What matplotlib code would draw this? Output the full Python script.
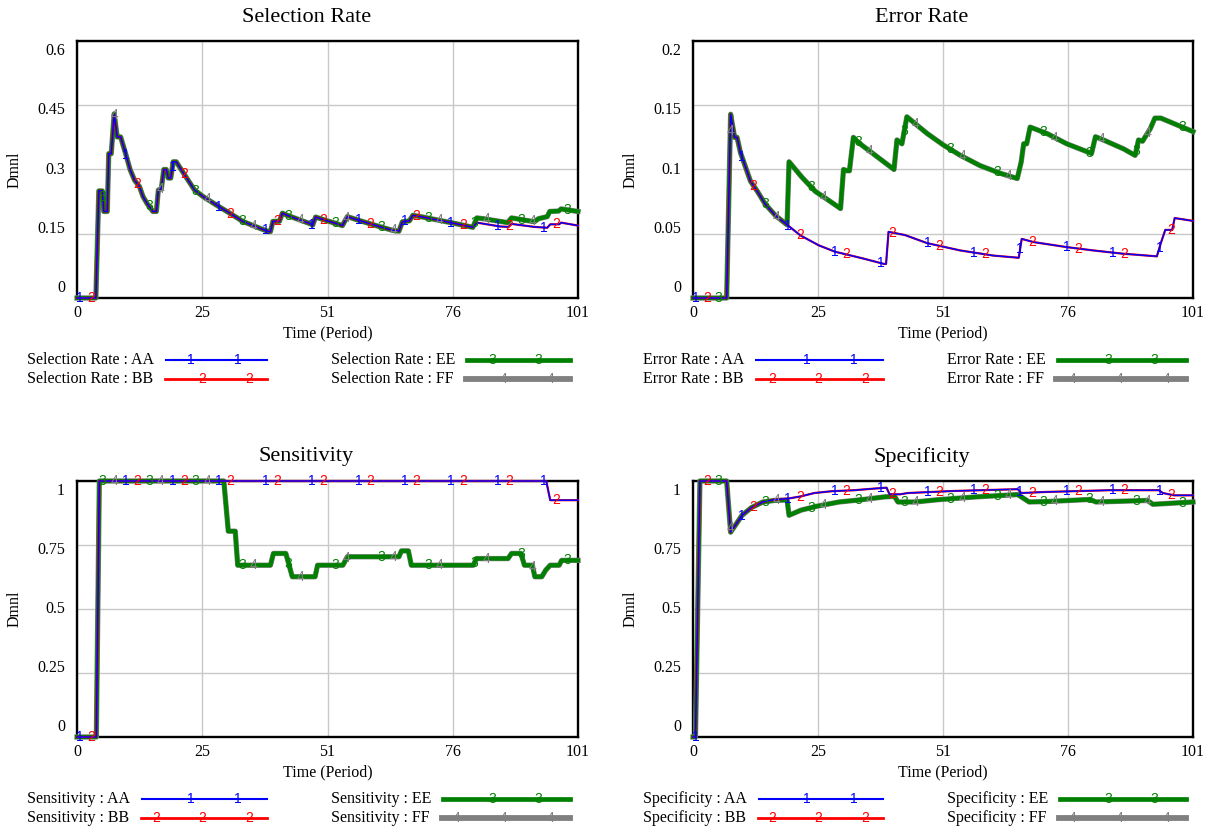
import numpy as np
import matplotlib
matplotlib.use('agg')
import matplotlib.pyplot as plt
from matplotlib.lines import Line2D

plt.rcParams['font.family'] = 'Liberation Serif'

W, H = 1211, 832

time_ticks = [0, 25.25, 50.5, 75.75, 101]
time_labels = ['0', '25', '51', '76', '101']

# Selection Rate
sel_aa_t = [0, 3.8, 4.4, 5.1, 5.4, 6.1, 6.4, 6.9, 7.5, 8.1, 8.8, 9.8, 10.7, 11.6, 12.6, 13.3, 14.1,
            15.3, 16.0, 16.4, 17.0, 17.5, 18.0, 18.4, 18.9, 19.4, 20.0, 21.0, 22.4, 23.7, 25.4, 28.1,
            30.8, 33.4, 36.8, 38.6, 39.0, 39.5, 40.8, 41.4, 42.4, 47.1, 47.5, 48.1, 50.2, 52.5, 53.5,
            54.5, 56.9, 60.3, 63.6, 64.9, 65.6, 67.0, 67.7, 69.7, 75.8, 79.8, 80.6, 85.3, 87.0, 87.6,
            92.2, 94.8, 95.4, 97.2, 97.6, 101]
sel_aa_v = [0, 0, 0.25, 0.25, 0.202, 0.202, 0.337, 0.337, 0.43, 0.376, 0.376, 0.337, 0.30, 0.275,
            0.26, 0.237, 0.221, 0.202, 0.202, 0.252, 0.255, 0.30, 0.30, 0.28, 0.28, 0.318, 0.318,
            0.30, 0.275, 0.252, 0.237, 0.217, 0.198, 0.179, 0.163, 0.155, 0.155, 0.179, 0.179, 0.198,
            0.193, 0.173, 0.170, 0.189, 0.181, 0.173, 0.169, 0.19, 0.181, 0.169, 0.158, 0.156, 0.178,
            0.180, 0.193, 0.189, 0.175, 0.165, 0.176, 0.167, 0.166, 0.173, 0.166, 0.164, 0.172, 0.172,
            0.176, 0.169]
# EE follows AA up to t=79.8, then splits off
sel_ee_t = sel_aa_t[:58] + [80.6, 82.0, 86.8, 87.6, 92.2, 93.0, 94.8, 95.3, 97.1, 97.6, 101]
sel_ee_v = sel_aa_v[:58] + [0.187, 0.185, 0.176, 0.187, 0.178, 0.185, 0.190, 0.202, 0.203, 0.208, 0.202]

# Error Rate
err_aa_t = [0, 6.8, 7.6, 8.4, 8.9, 9.6, 10.6, 11.6, 13.0, 14.6, 16.7, 19.0, 21.7, 25.4, 28.7, 34.1,
            38.6, 39.0, 39.5, 42.8, 47.3, 54.0, 60.7, 65.8, 66.4, 68.8, 75.5, 80.9, 87.0, 89.5, 93.7,
            94.5, 95.4, 96.8, 97.3, 101]
err_aa_v = [0, 0, 0.143, 0.125, 0.125, 0.113, 0.102, 0.091, 0.083, 0.073, 0.064, 0.057, 0.0487,
            0.041, 0.036, 0.031, 0.0265, 0.0265, 0.0515, 0.049, 0.0427, 0.037, 0.033, 0.0313, 0.046,
            0.0435, 0.0396, 0.037, 0.0344, 0.0337, 0.0324, 0.0427, 0.053, 0.053, 0.0622, 0.060]
err_ee_t = err_aa_t[:12] + [19.4, 22.0, 24.7, 27.4, 29.8, 30.4, 31.1, 31.6, 32.4, 33.4, 40.6, 41.2,
                            42.2, 43.2, 47.3, 50.6, 54.0, 58.0, 62.1, 65.5, 66.3, 66.8, 67.4, 68.1,
                            71.5, 75.5, 80.5, 81.3, 82.9, 87.0, 89.3, 90.0, 90.8, 92.4, 93.3, 94.5, 101]
err_ee_v = err_aa_v[:12] + [0.106, 0.094, 0.083, 0.076, 0.0696, 0.100, 0.099, 0.099, 0.125, 0.121,
                            0.100, 0.123, 0.120, 0.141, 0.128, 0.119, 0.111, 0.103, 0.097, 0.093,
                            0.106, 0.120, 0.120, 0.133, 0.128, 0.120, 0.1125, 0.1255, 0.123, 0.116,
                            0.111, 0.123, 0.122, 0.132, 0.140, 0.140, 0.1295]

# Sensitivity
sen_aa_t = [0, 3.9, 4.5, 94.6, 95.4, 101]
sen_aa_v = [0, 0, 1, 1, 0.925, 0.925]
sen_ee_t = [0, 3.9, 4.5, 29.6, 30.5, 31.9, 32.4, 39.0, 39.6, 42.1, 43.4, 48.0, 48.5, 53.6, 54.5,
            64.9, 65.4, 66.8, 67.4, 79.9, 80.5, 86.9, 87.6, 89.5, 90.2, 91.8, 92.3, 93.7, 94.5,
            95.4, 97.2, 97.7, 101]
sen_ee_v = [0, 0, 1, 1, 0.804, 0.804, 0.671, 0.671, 0.717, 0.717, 0.626, 0.626, 0.671, 0.671,
            0.704, 0.704, 0.727, 0.727, 0.671, 0.671, 0.697, 0.697, 0.717, 0.717, 0.671, 0.671,
            0.626, 0.626, 0.652, 0.671, 0.671, 0.69, 0.69]

# Specificity
spe_aa_t = [0, 0.5, 1.4, 6.8, 7.6, 8.8, 9.9, 11.8, 14.1, 16.4, 19.1, 21.8, 24.5, 28.0, 32.6, 36.4,
            39.1, 39.7, 41.8, 43.4, 52.6, 65.6, 66.3, 71.0, 84.1, 94.1, 94.9, 97.2, 101]
spe_aa_v = [0, 0, 1, 1, 0.80, 0.834, 0.866, 0.896, 0.918, 0.927, 0.931, 0.94, 0.953, 0.96, 0.964,
            0.97, 0.974, 0.948, 0.948, 0.953, 0.961, 0.968, 0.953, 0.957, 0.964, 0.964, 0.953,
            0.944, 0.944]
spe_ee_t = [0, 0.5, 1.4, 6.8, 7.6, 8.8, 9.9, 11.8, 14.1, 16.4, 19.0, 19.4, 21.8, 24.9, 29.5, 34.1,
            38.7, 40.7, 41.4, 44.9, 49.5, 57.2, 65.6, 67.9, 71.8, 80.2, 81.4, 91.8, 92.9, 101]
spe_ee_v = [0, 0, 1, 1, 0.80, 0.834, 0.866, 0.896, 0.918, 0.924, 0.926, 0.866, 0.886, 0.901, 0.918,
            0.927, 0.938, 0.94, 0.918, 0.918, 0.927, 0.938, 0.947, 0.918, 0.92, 0.928, 0.918,
            0.924, 0.909, 0.918]

# BB runs on top of AA, FF on top of EE
panels = [
    ('Selection Rate', (77, 41, 578, 298), 0.6, ['0', '0.15', '0.3', '0.45', '0.6'],
     {'AA': (sel_aa_t, sel_aa_v), 'BB': (sel_aa_t, sel_aa_v),
      'EE': (sel_ee_t, sel_ee_v), 'FF': (sel_ee_t, sel_ee_v)}),
    ('Error Rate', (693, 41, 1193, 298), 0.2, ['0', '0.05', '0.1', '0.15', '0.2'],
     {'AA': (err_aa_t, err_aa_v), 'BB': (err_aa_t, err_aa_v),
      'EE': (err_ee_t, err_ee_v), 'FF': (err_ee_t, err_ee_v)}),
    ('Sensitivity', (77, 481, 578, 737), 1.0, ['0', '0.25', '0.5', '0.75', '1'],
     {'AA': (sen_aa_t, sen_aa_v), 'BB': (sen_aa_t, sen_aa_v),
      'EE': (sen_ee_t, sen_ee_v), 'FF': (sen_ee_t, sen_ee_v)}),
    ('Specificity', (693, 481, 1193, 737), 1.0, ['0', '0.25', '0.5', '0.75', '1'],
     {'AA': (spe_aa_t, spe_aa_v), 'BB': (spe_aa_t, spe_aa_v),
      'EE': (spe_ee_t, spe_ee_v), 'FF': (spe_ee_t, spe_ee_v)}),
]

keys = ['AA', 'BB', 'EE', 'FF']
colors = {'AA': '#0000ff', 'BB': '#ff0000', 'EE': '#008000', 'FF': '#808080'}
widths = {'AA': 1.1, 'BB': 1.6, 'EE': 3.0, 'FF': 3.8}
zorders = {'AA': 6, 'BB': 5, 'EE': 4, 'FF': 3}
digits = {'AA': '1', 'BB': '2', 'EE': '3', 'FF': '4'}
period = 9.37
fs = 11.5
digit_font = dict(family='Liberation Sans', fontsize=10)


def fx(x):
    return x / W


def fy(y):
    return 1 - y / H


fig = plt.figure(figsize=(W / 100, H / 100), dpi=100)
renderer = fig.canvas.get_renderer()

for title, box, ymax, ylabels, data in panels:
    left, top, right, bottom = box
    ax = fig.add_axes([fx(left), fy(bottom), (right - left) / W, (bottom - top) / H])
    ax.set_xlim(0, 101)
    ax.set_ylim(0, ymax)
    ax.set_xticks(time_ticks)
    ax.set_yticks([ymax * i / 4 for i in range(5)])
    ax.tick_params(length=0, labelbottom=False, labelleft=False)
    ax.grid(color='#c8c8c8', lw=1.0)
    ax.set_axisbelow(True)
    for sp in ax.spines.values():
        sp.set_linewidth(1.7)
        sp.set_zorder(2.5)

    for k, key in enumerate(keys):
        t, v = data[key]
        ax.plot(t, v, color=colors[key], lw=widths[key], zorder=zorders[key], clip_on=False)
        # Vensim style digit markers along the line
        tm = np.arange(0.5 + period * k / 4, 101, period)
        vm = np.interp(tm, t, v)
        for a, b in zip(tm, vm):
            ax.text(a, b, digits[key], color=colors[key], ha='center', va='center',
                    zorder=7, clip_on=False, **digit_font)

    # axis texts
    h = bottom - top
    for i, lab in enumerate(ylabels):
        ypx = bottom - 10 - i * (h - 20) / 4
        fig.text(fx(left - 12), fy(ypx), lab, ha='right', va='center', fontsize=fs)
    for tt, lab in zip(time_ticks, time_labels):
        xpx = left + tt / 101 * (right - left)
        fig.text(fx(xpx), fy(bottom + 15), lab, ha='center', va='center', fontsize=fs)
    fig.text(fx((left + right) / 2), fy(bottom + 35), 'Time (Period)', ha='center', va='center',
             fontsize=fs)
    fig.text(fx(left - 62), fy((top + bottom) / 2), 'Dmnl', rotation=90, ha='center', va='center',
             fontsize=fs)
    fig.text(fx((left + right) / 2 - 21), fy(top - 24), title, ha='center', va='center', fontsize=16)

    # legend below the plot
    for k, key in enumerate(keys):
        col, row = k // 2, k % 2
        y = bottom + 62 + row * 19
        tx = left - 50 if col == 0 else left + 254
        txt = fig.text(fx(tx), fy(y), title + ' : ' + key, ha='left', va='center', fontsize=fs)
        ext = txt.get_window_extent(renderer)
        x0 = ext.x1 + 12
        x1 = left + (190 if col == 0 else 493)
        fig.add_artist(Line2D([fx(x0), fx(x1)], [fy(y), fy(y)], transform=fig.transFigure,
                              color=colors[key], lw=widths[key] + 0.4))
        base = left + (67 if col == 0 else 368) + 11.7 * row
        for j in range(4):
            mx = base + 46.8 * j
            if x0 + 4 <= mx <= x1 - 3:
                fig.text(fx(mx), fy(y), digits[key], color=colors[key], ha='center', va='center',
                         **digit_font)

fig.savefig('out.png', dpi=100)
